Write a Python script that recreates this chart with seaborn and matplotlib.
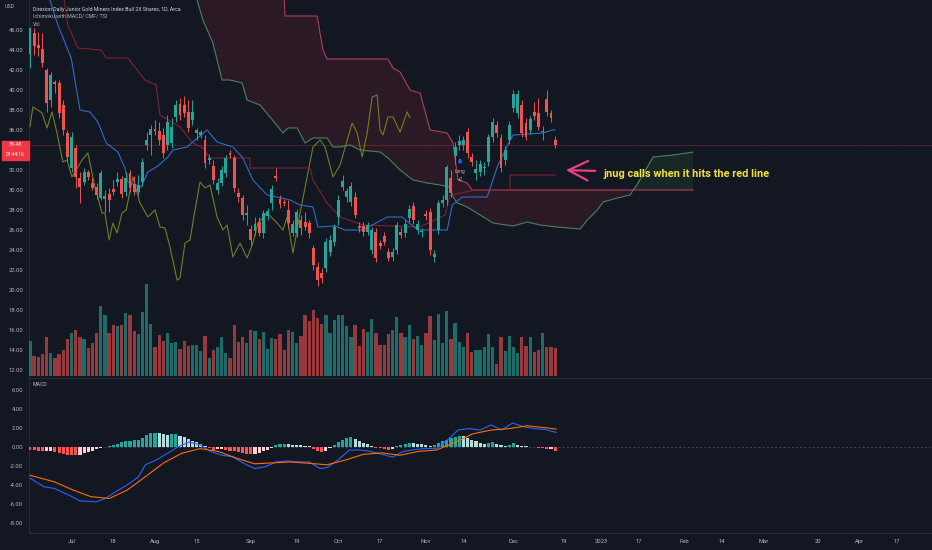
import numpy as np
import pandas as pd
import matplotlib
matplotlib.use("Agg")
import matplotlib.pyplot as plt
import seaborn as sns
from matplotlib.patches import Rectangle
from matplotlib.transforms import blended_transform_factory

BG = "#131722"
TEXT = "#b2b5be"
GRID = "#171b26"
EDGE = "#2a2e39"
UP = "#26a69a"
DOWN = "#ef5350"

# daily bars, first bar 2022-06-16
opens = [43.6, 45.7, 44.5, 44.1, 42.0, 39.0, 40.8, 40.7, 38.5, 35.7,
         32.2, 34.2, 31.2, 30.8, 31.8, 30.7, 30.3, 29.2, 29.1, 29.6,
         30.1, 30.8, 31.1, 29.8, 31.7, 30.6, 29.8, 30.8, 34.5, 35.5,
         36.1, 35.9, 35.5, 34.5, 34.7, 37.3, 38.6, 38.5, 37.8, 37.0,
         35.7, 35.5, 35.0, 33.0, 32.4, 30.0, 30.7, 31.7, 33.7, 33.2,
         29.7, 29.2, 27.5, 26.1, 25.9, 26.8, 25.7, 27.4, 28.7, 31.4,
         29.1, 28.8, 28.0, 25.7, 25.7, 27.0, 26.8, 26.7, 24.2, 22.3,
         21.7, 22.2, 23.8, 24.8, 27.3, 30.3, 29.3, 28.8, 29.3, 26.4,
         26.4, 25.8, 24.0, 25.8, 24.7, 25.4, 23.8, 23.3, 24.0, 25.8,
         25.7, 27.2, 28.4, 26.0, 25.8, 27.6, 27.8, 23.3, 26.0, 28.7,
         29.0, 31.2, 33.4, 34.5, 34.5, 35.8, 33.3, 31.7, 31.8, 32.2,
         32.8, 35.3, 36.5, 35.2, 33.0, 35.0, 38.2, 37.7, 38.5, 36.7,
         36.0, 37.8, 37.7, 35.8, 39.1, 37.7, 35.0]
highs = [46.3, 46.2, 45.8, 45.7, 42.2, 41.8, 41.0, 41.0, 39.0, 36.0,
         35.8, 34.5, 31.8, 32.2, 32.0, 31.2, 30.7, 32.0, 30.0, 30.2,
         31.0, 31.8, 31.4, 31.8, 32.0, 31.4, 31.5, 33.2, 35.8, 36.5,
         37.0, 36.8, 36.2, 37.5, 37.2, 39.0, 39.2, 39.4, 39.0, 39.0,
         36.2, 36.0, 35.5, 33.6, 33.0, 31.2, 32.4, 33.5, 34.0, 33.5,
         30.2, 29.5, 28.5, 26.5, 27.3, 27.3, 28.0, 28.2, 30.5, 32.2,
         29.5, 29.1, 29.0, 27.0, 28.1, 27.5, 27.8, 27.0, 24.5, 22.8,
         22.2, 25.2, 25.5, 26.6, 29.5, 31.5, 30.2, 30.8, 29.8, 26.8,
         26.8, 26.8, 26.3, 26.2, 25.0, 25.8, 24.2, 24.2, 26.8, 26.3,
         27.0, 28.5, 28.8, 27.0, 26.2, 28.0, 28.2, 24.0, 29.0, 29.5,
         32.5, 32.0, 34.8, 35.5, 35.4, 36.2, 33.7, 33.0, 33.0, 32.8,
         35.6, 37.2, 36.9, 35.6, 34.4, 36.9, 40.0, 40.0, 39.0, 37.2,
         37.4, 38.8, 39.2, 36.4, 40.0, 38.0, 35.4]
lows = [42.2, 43.5, 43.4, 42.3, 37.8, 38.3, 39.7, 37.2, 35.5, 32.8,
        31.8, 30.2, 28.7, 30.5, 31.0, 30.0, 29.1, 29.0, 27.8, 27.8,
        29.5, 30.4, 29.2, 29.4, 29.8, 29.5, 29.5, 30.4, 34.0, 33.5,
        35.5, 34.5, 33.2, 34.0, 34.2, 36.8, 37.0, 37.3, 35.8, 36.5,
        35.0, 35.2, 32.2, 32.6, 30.6, 29.6, 30.4, 31.3, 33.2, 29.8,
        28.8, 27.0, 26.5, 24.5, 25.5, 25.4, 25.2, 27.0, 28.0, 30.9,
        28.2, 28.4, 26.2, 25.4, 25.3, 25.5, 26.0, 25.2, 22.0, 20.4,
        20.7, 21.8, 23.4, 24.4, 26.5, 30.0, 28.8, 28.4, 27.2, 25.8,
        25.4, 25.5, 23.6, 22.8, 24.1, 24.5, 22.9, 22.9, 23.6, 25.2,
        25.3, 26.8, 26.6, 25.6, 25.3, 27.0, 23.5, 22.8, 25.6, 28.3,
        28.5, 29.3, 32.6, 34.0, 34.0, 33.2, 32.4, 31.0, 31.4, 31.5,
        32.4, 34.8, 35.3, 31.8, 32.5, 34.6, 37.8, 37.2, 35.3, 35.0,
        35.6, 37.0, 36.0, 35.0, 37.4, 36.8, 34.2]
closes = [46.2, 44.4, 44.2, 42.7, 38.7, 41.5, 40.6, 37.7, 36.0, 33.3,
          35.3, 31.3, 30.3, 31.8, 31.3, 30.2, 29.5, 31.7, 29.4, 29.0,
          29.8, 31.1, 29.6, 31.2, 30.2, 29.8, 30.5, 32.8, 35.0, 36.1,
          35.9, 35.0, 33.7, 36.8, 36.3, 38.5, 37.5, 37.7, 36.2, 37.8,
          36.0, 35.8, 32.7, 33.2, 31.0, 30.7, 32.0, 33.2, 33.5, 30.2,
          29.3, 27.5, 27.7, 25.0, 26.6, 25.7, 27.7, 27.9, 30.1, 31.2,
          28.6, 28.7, 26.7, 26.6, 27.8, 26.2, 26.3, 25.7, 22.5, 21.0,
          21.2, 24.8, 25.0, 26.3, 29.0, 30.9, 29.9, 30.4, 27.5, 26.2,
          25.8, 26.5, 26.0, 23.2, 24.4, 24.8, 23.2, 23.8, 26.5, 25.5,
          26.6, 28.1, 27.0, 26.6, 25.9, 27.4, 24.0, 23.6, 28.7, 29.0,
          32.3, 29.7, 34.3, 34.9, 35.0, 33.7, 32.8, 32.1, 32.6, 32.3,
          35.3, 36.8, 35.7, 32.2, 34.0, 36.5, 39.6, 39.6, 35.7, 35.3,
          37.1, 37.4, 36.3, 35.9, 37.8, 37.2, 34.48]
volume_k = [1080, 610, 580, 660, 1180, 710, 550, 680, 780, 1130,
            1330, 1400, 1180, 1130, 860, 1020, 1320, 2130, 1880, 1320,
            1550, 1530, 1560, 1930, 1880, 1380, 1280, 1960, 2800, 1600,
            900, 1260, 1080, 1320, 1020, 1040, 840, 1060, 920, 960,
            960, 760, 1220, 560, 780, 880, 1200, 710, 560, 1550,
            1040, 1180, 1020, 1420, 1370, 1130, 1360, 830, 1160, 1140,
            1280, 780, 1410, 1360, 1000, 1220, 1860, 1680, 2020, 1780,
            1600, 1860, 1330, 1700, 1860, 1860, 1540, 1200, 1560, 930,
            1450, 1360, 1730, 1330, 960, 960, 1280, 1420, 1800, 1320,
            1180, 1550, 1130, 1230, 950, 1320, 1850, 1100, 1900, 1020,
            2000, 1130, 1620, 1030, 880, 1330, 720, 780, 780, 900,
            1280, 900, 380, 1200, 760, 1230, 900, 700, 1200, 930,
            1200, 730, 810, 1310, 900, 880, 860]
macd_hist = [-0.30, -0.35, -0.40, -0.50, -0.45, -0.40, -0.55, -0.70, -0.75, -0.85,
             -0.90, -0.92, -0.85, -0.70, -0.55, -0.40, -0.25, -0.12, -0.05, 0.05,
             0.15, 0.30, 0.45, 0.60, 0.65, 0.70, 0.75, 0.95, 1.20, 1.40,
             1.45, 1.40, 1.30, 1.25, 1.30, 1.32, 1.15, 1.00, 0.85, 0.65,
             0.45, 0.25, 0.10, -0.15, -0.30, -0.25, -0.20, -0.30, -0.40, -0.50,
             -0.60, -0.70, -0.75, -0.80, -0.75, -0.65, -0.50, -0.30, -0.10, 0.15,
             0.25, 0.30, 0.25, 0.20, 0.15, 0.15, 0.10, 0.05, -0.25, -0.50,
             -0.60, -0.40, -0.15, 0.20, 0.50, 0.75, 0.90, 1.00, 0.80, 0.60,
             0.40, 0.25, 0.10, -0.10, -0.15, -0.20, -0.30, -0.20, 0.05, 0.20,
             0.30, 0.35, 0.35, 0.30, 0.25, 0.20, 0.10, 0.15, 0.35, 0.55,
             0.70, 0.90, 1.00, 1.10, 1.10, 0.95, 0.75, 0.55, 0.40, 0.30,
             0.35, 0.45, 0.30, 0.15, 0.10, 0.20, 0.35, 0.20, 0.10, 0.05,
             0.02, -0.05, -0.10, -0.15, -0.25, -0.20, -0.45]

# MACD / signal lines, read at bar positions
macd_bar = [0, 3.3, 5.9, 9.4, 12.0, 15.9, 18.1, 20.7, 23.4, 26.0, 27.7, 30.3, 33.0,
            35.6, 38.2, 40.8, 43.4, 46.0, 48.6, 51.3, 53.9, 56.5, 59.1, 61.7, 64.4,
            67.0, 69.6, 71.3, 73.9, 76.6, 79.2, 81.8, 84.4, 87.0, 89.6, 92.3, 94.9,
            97.5, 100.1, 102.7, 105.4, 108.0, 110.6, 113.2, 115.8, 118.4, 121.1,
            123.7, 126.3]
macd_val = [-3.3, -4.2, -4.4, -5.1, -5.7, -5.8, -5.45, -4.7, -4.0, -3.2, -1.9, -1.4, -0.7,
            0.0, 0.5, 0.2, -0.5, -0.9, -1.05, -1.75, -2.3, -2.1, -1.6, -1.5, -1.6,
            -1.6, -2.3, -2.2, -1.4, -0.35, -0.35, -0.5, -0.8, -1.1, -0.5, -0.3, -0.2,
            -0.2, 0.7, 1.75, 1.9, 1.75, 2.3, 1.75, 2.5, 2.1, 1.9,
            1.8, 1.5]
signal_bar = [0, 5.9, 10.3, 14.6, 19.0, 23.4, 27.7, 32.1, 36.4, 40.8, 45.2, 49.5, 53.9,
              58.2, 62.6, 67.0, 71.3, 75.7, 80.0, 84.4, 88.8, 93.1, 97.5, 101.8, 106.2,
              110.6, 114.9, 119.3, 123.7, 126.3]
signal_val = [-3.0, -3.7, -4.55, -5.25, -5.45, -4.55, -3.15, -1.7, -0.7, -0.2, -0.5, -1.2, -1.8,
              -1.7, -1.6, -1.75, -1.9, -1.4, -0.8, -0.65, -0.9, -0.5, -0.35, 0.4, 1.35,
              1.75, 1.9, 2.2, 2.0, 1.85]

# Ichimoku lines, read at bar positions
tenkan_bar = [3.5, 4.8, 6.7, 9.9, 12.0, 14.4, 16.3, 18.3, 21.1, 22.8, 23.5, 26.7, 28.3,
              30.7, 33.1, 34.3, 37.7, 39.6, 42.5, 44.9, 48.7, 51.1, 53.5, 56.9, 59.3,
              62.4, 64.8, 67.9, 69.1, 73.2, 75.6, 79.9, 85.7, 89.3, 90.7, 93.1, 100.1,
              101.3, 103.7, 109.7, 112.1, 115.2, 115.9, 123.1, 125.3, 126.0]
tenkan_val = [50.5, 49.0, 46.5, 43.2, 38.0, 37.8, 36.8, 34.7, 33.8, 32.2, 30.8, 30.3, 31.8,
              32.4, 33.3, 34.0, 34.3, 35.0, 36.0, 34.8, 34.3, 33.2, 31.0, 29.5, 29.3,
              29.0, 28.5, 28.3, 26.3, 26.4, 26.0, 26.0, 27.3, 27.3, 26.8, 26.0, 26.0,
              28.5, 29.3, 29.3, 32.3, 35.0, 35.5, 35.7, 36.0, 36.0]
kijun_bar = [7.5, 8.2, 9.1, 11.5, 17.1, 18.3, 23.5, 27.6, 30.3, 31.2, 36.0, 39.1, 41.5,
             43.2, 52.8, 52.8, 67.2, 67.9, 71.3, 74.4, 79.9, 93.6, 99.6, 100.8, 106.8,
             115.2, 115.2, 126.0]
kijun_val = [50.5, 49.0, 46.5, 44.2, 44.0, 43.2, 43.2, 41.0, 40.5, 37.5, 36.3, 34.7, 34.2,
             33.2, 33.2, 32.2, 32.2, 31.0, 28.7, 27.3, 26.5, 26.3, 27.5, 29.5, 30.0,
             30.0, 31.5, 31.5]
chikou_bar = [0.0, 0.7, 1.9, 2.9, 4.1, 5.3, 6.5, 7.9, 8.9, 10.1, 12.5, 13.9, 15.6, 17.3,
              18.0, 19.0, 19.9, 20.9, 22.1, 23.1, 24.7, 26.4, 28.3, 30.0, 31.2, 32.4,
              33.6, 35.3, 36.0, 37.2, 38.4, 39.6, 40.8, 42.0, 43.2, 44.9, 46.3, 47.3,
              48.7, 50.4, 52.1, 53.5, 54.7, 56.9, 59.3, 60.7, 61.7, 63.1, 64.8, 66.5,
              67.9, 69.6, 70.8, 72.7, 74.4, 77.3, 78.5, 79.7, 80.9, 82.1, 83.3, 84.0,
              84.7, 85.9, 87.1, 88.8, 90.5, 91.2]
chikou_val = [36.3, 38.3, 38.0, 37.7, 36.2, 37.8, 35.7, 32.8, 33.0, 31.3, 33.0, 33.7, 30.3, 27.7,
              27.7, 25.0, 26.7, 25.7, 27.7, 28.0, 31.3, 28.7, 27.3, 28.0, 26.3, 26.2,
              24.3, 21.0, 21.2, 24.7, 25.0, 28.0, 30.8, 30.2, 30.5, 27.3, 26.0, 26.5,
              23.3, 24.7, 23.2, 24.7, 26.7, 27.7, 26.7, 26.0, 27.3, 23.7, 27.7, 31.3,
              34.3, 35.0, 34.3, 31.3, 32.5, 36.7, 35.7, 33.3, 35.7, 39.3, 39.5, 36.0,
              35.5, 37.3, 37.3, 35.8, 37.8, 37.2]
span_a_bar = [39.0, 40.1, 41.5, 43.9, 46.1, 48.0, 50.9, 52.1, 55.2, 57.6, 60.7, 61.9, 64.1,
              66.0, 67.9, 71.3, 72.7, 74.4, 76.8, 79.2, 84.0, 85.9, 88.8, 91.9, 95.3,
              98.4, 100.8, 101.5, 102.5, 104.9, 108.0, 111.1, 115.9, 119.3, 122.4, 126.5,
              132.0, 133.7, 136.1, 137.5, 140.9, 144.0, 144.7, 145.6, 149.5, 154.3, 157.6,
              159.1]
span_a_val = [51.0, 49.0, 47.0, 44.7, 41.0, 41.0, 40.7, 39.0, 38.5, 37.3, 35.7, 36.2, 36.2,
              34.7, 35.2, 35.2, 34.3, 34.3, 34.5, 34.0, 33.8, 33.2, 32.0, 31.0, 30.7,
              30.5, 30.3, 29.3, 28.7, 28.3, 27.5, 26.7, 26.4, 26.8, 26.5, 26.3,
              26.1, 27.0, 28.0, 28.8, 29.2, 29.5, 30.0, 30.5, 33.3, 33.5, 33.7,
              33.8]
span_b_bar = [39.0, 60.7, 61.2, 68.9, 70.3, 71.3, 85.9, 87.1, 88.8, 91.2, 93.6, 96.0, 100.1,
              101.5, 102.7, 104.9, 106.1, 144.7, 159.1]
span_b_val = [52.0, 52.0, 47.4, 47.4, 44.0, 43.1, 43.1, 42.2, 41.8, 40.0, 39.7, 36.0, 35.7,
              34.7, 31.0, 30.7, 30.0, 30.0, 30.0]
cloud_cross = 144.7
last_price = 34.48

holidays = ["2022-06-20", "2022-07-04", "2022-09-05", "2022-11-24", "2022-12-26",
            "2023-01-02", "2023-01-16", "2023-02-20", "2023-04-07"]
tick_dates = ["2022-07-01", "2022-07-18", "2022-08-01", "2022-08-15", "2022-09-01",
              "2022-09-19", "2022-10-03", "2022-10-17", "2022-11-01", "2022-11-14",
              "2022-12-01", "2022-12-19", "2023-01-03", "2023-01-17", "2023-02-01",
              "2023-02-14", "2023-03-01", "2023-03-20", "2023-04-03", "2023-04-17"]
tick_labels = ["Jul", "18", "Aug", "15", "Sep", "19", "Oct", "17", "Nov", "14",
               "Dec", "19", "2023", "17", "Feb", "14", "Mar", "20", "Apr", "17"]
price_ticks = np.arange(12, 47, 2)
macd_ticks = np.arange(-8, 7, 2)


def px(x, y):
    return x / 932, 1 - y / 550


def draw_line(ax, xs, ys, color, lw, alpha=1.0):
    sns.lineplot(x=xs, y=ys, ax=ax, sort=False, estimator=None,
                 color=color, linewidth=lw, alpha=alpha, zorder=3)


def main():
    sessions = pd.bdate_range("2022-06-16", "2023-05-31", freq="C", holidays=holidays)
    tick_pos = sessions.get_indexer(pd.to_datetime(tick_dates))

    o = np.array(opens)
    h = np.array(highs)
    l = np.array(lows)
    c = np.array(closes)
    bars = np.arange(len(c))
    colors = np.where(c >= o, UP, DOWN)

    sns.set_theme(style="dark", rc={"axes.facecolor": BG, "figure.facecolor": BG,
                                    "axes.edgecolor": EDGE, "text.color": TEXT,
                                    "xtick.color": TEXT, "ytick.color": TEXT})
    plt.rcParams["font.family"] = ["Roboto", "DejaVu Sans"]

    fig = plt.figure(figsize=(9.32, 5.5), dpi=100)
    ax = fig.add_axes([29 / 932, 1 - 376 / 550, 1 - 29 / 932, 376 / 550])
    ax_macd = fig.add_axes([29 / 932, 1 - 533 / 550, 1 - 29 / 932, 155 / 550], sharex=ax)

    # cloud
    a_x, a_y = np.array(span_a_bar), np.array(span_a_val)
    b_x, b_y = np.array(span_b_bar), np.array(span_b_val)
    ma, mb = a_x <= cloud_cross, b_x <= cloud_cross
    ax.fill(np.r_[a_x[ma], b_x[mb][::-1]], np.r_[a_y[ma], b_y[mb][::-1]],
            color="#f23645", alpha=0.11, lw=0, zorder=1)
    ma, mb = a_x >= cloud_cross, b_x >= cloud_cross
    ax.fill(np.r_[a_x[ma], b_x[mb][::-1]], np.r_[a_y[ma], b_y[mb][::-1]],
            color="#4caf50", alpha=0.11, lw=0, zorder=1)
    draw_line(ax, span_a_bar, span_a_val, "#4f8d63", 0.8, 0.9)
    draw_line(ax, span_b_bar, span_b_val, "#b8405a", 0.8, 0.95)
    draw_line(ax, chikou_bar, chikou_val, "#6f7f24", 0.8)
    draw_line(ax, kijun_bar, kijun_val, "#7c2333", 0.8)
    draw_line(ax, tenkan_bar, tenkan_val, "#2f6cc4", 0.8)

    ax.axhline(last_price, color=DOWN, alpha=0.3, lw=0.6, zorder=2)

    # candles
    ax.vlines(bars, l, h, colors=colors, lw=0.7, zorder=4)
    ax.bar(bars, np.maximum(np.abs(c - o), 0.08), bottom=np.minimum(o, c),
           width=0.7, color=colors, linewidth=0, zorder=5)

    # volume overlay
    ax_vol = ax.twinx()
    ax_vol.bar(bars, volume_k, width=0.78, color=colors, alpha=0.6, linewidth=0)
    ax_vol.set_ylim(0, 11500)
    ax_vol.set_axis_off()

    # long signal marker
    ax.annotate("", xy=(103.2, 33.5), xytext=(103.2, 32.4),
                arrowprops=dict(arrowstyle="-|>", color="#2962ff", lw=1.0,
                                mutation_scale=5), zorder=6)
    ax.text(103.2, 31.8, "Long", fontsize=3.4, color=TEXT, ha="center", va="center")
    ax.text(103.2, 31.1, "+2", fontsize=3.4, color=TEXT, ha="center", va="center")

    # hand-drawn note
    ax.annotate("", xy=(127.9, 32.0), xytext=(136.3, 31.9),
                arrowprops=dict(arrowstyle="->,head_length=1.0,head_width=0.5",
                                color="#e9407f", lw=1.6, mutation_scale=14), zorder=6)
    ax.text(137.5, 31.6, "jnug calls when it hits the red line", fontsize=7.9,
            fontweight="bold", color="#f2e33c", ha="left", va="center", zorder=6)

    ax.set_ylim(11.4, 49.0)
    ax.set_yticks(price_ticks)
    ax.set_yticklabels([f"{v:.2f}" for v in price_ticks])
    ax.tick_params(axis="y", length=0, labelsize=4.2, pad=4)
    ax.tick_params(axis="x", bottom=False, labelbottom=False)
    ax.grid(True, color=GRID, lw=0.5)

    # price label on the scale
    trans = blended_transform_factory(fig.transFigure, ax.transData)
    ax.add_patch(Rectangle((2 / 932, 33.05), 27 / 932, 1.9, transform=trans,
                           color="#f23645", clip_on=False, zorder=7))
    ax.text(15 / 932, 34.5, f"{last_price:.2f}", transform=trans, fontsize=3.8,
            color="white", ha="center", va="center", clip_on=False, zorder=8)
    ax.text(15 / 932, 33.55, "01:44:16", transform=trans, fontsize=3.5,
            color="white", ha="center", va="center", clip_on=False, zorder=8)

    # MACD pane
    hcolors = []
    for i, v in enumerate(macd_hist):
        prev = macd_hist[i - 1] if i > 0 else v
        if v >= 0:
            hcolors.append("#26a69a" if v > prev else "#b2dfdb")
        else:
            hcolors.append("#ffcdd2" if v > prev else "#ff5252")
    ax_macd.bar(bars, macd_hist, width=0.75, color=hcolors, linewidth=0, zorder=3)
    ax_macd.axhline(0, color="#4a4f5b", lw=0.6, ls=(0, (2, 3)), zorder=2)
    draw_line(ax_macd, macd_bar, macd_val, "#2962ff", 0.8)
    draw_line(ax_macd, signal_bar, signal_val, "#ff6d00", 0.8)
    ax_macd.set_ylim(-9.08, 7.23)
    ax_macd.set_yticks(macd_ticks)
    ax_macd.set_yticklabels([f"{v:.2f}" for v in macd_ticks])
    ax_macd.set_xticks(tick_pos)
    ax_macd.set_xticklabels(tick_labels)
    ax_macd.tick_params(axis="both", length=0, labelsize=4.2, pad=4)
    ax_macd.grid(True, color=GRID, lw=0.5)

    ax.set_xlim(-0.22, 216.4)
    for a in (ax, ax_macd):
        a.set_xlabel("")
        a.set_ylabel("")
        for side in ("top", "right", "bottom"):
            a.spines[side].set_visible(False)
        a.spines["left"].set_color(EDGE)
        a.spines["left"].set_linewidth(0.6)
    ax_macd.spines["top"].set_visible(True)
    ax_macd.spines["bottom"].set_visible(True)
    for side in ("top", "bottom"):
        ax_macd.spines[side].set_color(EDGE)
        ax_macd.spines[side].set_linewidth(0.6)

    # header texts
    fig.text(*px(5, 7), "USD", fontsize=3.8, color=TEXT, va="center")
    fig.text(*px(33, 9), "Direxion Daily Junior Gold Miners Index Bull 2X Shares, 1D, Arca",
             fontsize=3.8, color="#d1d4dc", va="center")
    fig.text(*px(33, 16.5), "Ichimoku with MACD/ CMF/ TSI", fontsize=3.8,
             color=TEXT, va="center")
    fig.text(*px(33, 25), "Vol", fontsize=3.8, color=TEXT, va="center")
    fig.text(*px(33, 385), "MACD", fontsize=3.8, color=TEXT, va="center")

    fig.savefig("out.png", dpi=100, facecolor=BG)
    plt.close(fig)


if __name__ == "__main__":
    main()
